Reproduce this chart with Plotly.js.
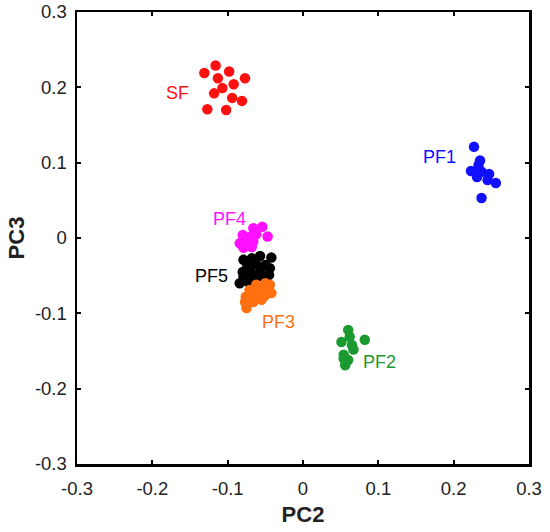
<!DOCTYPE html>
<html>
<head>
<meta charset="utf-8">
<script src="https://cdn.plot.ly/plotly-3.0.1.min.js"></script>
<style>html,body{margin:0;padding:0;background:#fff;}#chart{width:550px;height:532px;}</style>
</head>
<body>
<div id="chart"></div>
<script>
const groupNames = ["SF", "PF1", "PF4", "PF5", "PF3", "PF2"];
const groupColors = ["#ff1010", "#1010ff", "#ff10ff", "#000000", "#ff7010", "#1a9a30"];

const sfX = [-0.131, -0.116, -0.098, -0.113, -0.077, -0.092, -0.107, -0.118, -0.094, -0.081, -0.127, -0.102];
const sfY = [0.219, 0.229, 0.221, 0.212, 0.212, 0.204, 0.199, 0.192, 0.186, 0.182, 0.171, 0.170];

const pf1X = [0.227, 0.235, 0.233, 0.223, 0.231, 0.237, 0.231, 0.247, 0.245, 0.256, 0.237];
const pf1Y = [0.121, 0.103, 0.097, 0.089, 0.089, 0.088, 0.081, 0.085, 0.077, 0.073, 0.053];

const pf4X = [-0.066, -0.054, -0.080, -0.069, -0.062, -0.047, -0.084, -0.074, -0.066, -0.079, -0.068];
const pf4Y = [0.013, 0.015, 0.004, 0.002, 0.005, 0.002, -0.007, -0.004, -0.005, -0.013, -0.012];

const pf5X = [-0.079, -0.068, -0.057, -0.042, -0.074, -0.062, -0.050, -0.044, -0.080, -0.070, -0.057, -0.045, -0.079, -0.066, -0.053, -0.084, -0.073, -0.064];
const pf5Y = [-0.029, -0.027, -0.024, -0.026, -0.036, -0.035, -0.036, -0.040, -0.045, -0.044, -0.045, -0.049, -0.051, -0.051, -0.051, -0.060, -0.058, -0.056];

const pf3X = [-0.062, -0.050, -0.044, -0.071, -0.057, -0.046, -0.042, -0.076, -0.064, -0.050, -0.077, -0.066, -0.075, -0.055];
const pf3Y = [-0.062, -0.060, -0.062, -0.069, -0.069, -0.069, -0.073, -0.078, -0.076, -0.076, -0.085, -0.085, -0.093, -0.082];

const pf2X = [0.060, 0.062, 0.051, 0.082, 0.065, 0.067, 0.054, 0.060, 0.056, 0.054];
const pf2Y = [-0.122, -0.131, -0.138, -0.135, -0.142, -0.148, -0.155, -0.162, -0.169, -0.160];

const labelX = [-0.166, 0.181, -0.097, -0.121, -0.033, 0.102];
const labelY = [0.192, 0.108, 0.025, -0.051, -0.111, -0.164];

const tickVals = [-0.3, -0.2, -0.1, 0, 0.1, 0.2, 0.3];
const tickText = ["-0.3", "-0.2", "-0.1", "0", "0.1", "0.2", "0.3"];

const xs = [sfX, pf1X, pf4X, pf5X, pf3X, pf2X];
const ys = [sfY, pf1Y, pf4Y, pf5Y, pf3Y, pf2Y];

const FONT = "Liberation Sans, Arial, sans-serif";

const traces = groupNames.map((n, i) => ({
  type: "scatter", mode: "markers", name: n,
  x: xs[i], y: ys[i],
  marker: {color: groupColors[i], size: 10.5, line: {width: 0}},
  hoverinfo: "skip"
}));

const annotations = groupNames.map((n, i) => ({
  x: labelX[i], y: labelY[i], xref: "x", yref: "y",
  text: n, showarrow: false,
  font: {family: FONT, size: 18, color: groupColors[i]}
}));

const axisCommon = {
  range: [-0.3, 0.3], tickmode: "array", tickvals: tickVals, ticktext: tickText,
  showgrid: false, zeroline: false, showline: true, linecolor: "#000", linewidth: 2.5,
  mirror: "ticks", ticks: "inside", ticklen: 4, tickwidth: 2, tickcolor: "#000",
  tickfont: {family: FONT, size: 18.5, color: "#222"},
  fixedrange: true, automargin: false
};

const layout = {
  width: 550, height: 532,
  margin: {l: 77, r: 21, t: 12, b: 68},
  paper_bgcolor: "#fff", plot_bgcolor: "#fff",
  showlegend: false,
  annotations: annotations,
  xaxis: Object.assign({}, axisCommon, {
    ticklabelstandoff: 6,
    title: {text: "<b>PC2</b>", font: {family: FONT, size: 22, color: "#222"}, standoff: 9}
  }),
  yaxis: Object.assign({}, axisCommon, {
    ticklabelstandoff: 4,
    title: {text: "<b>PC3</b>", font: {family: FONT, size: 22, color: "#222"}, standoff: 4}
  })
};

Plotly.newPlot("chart", traces, layout, {displayModeBar: false, staticPlot: true});
</script>
</body>
</html>
